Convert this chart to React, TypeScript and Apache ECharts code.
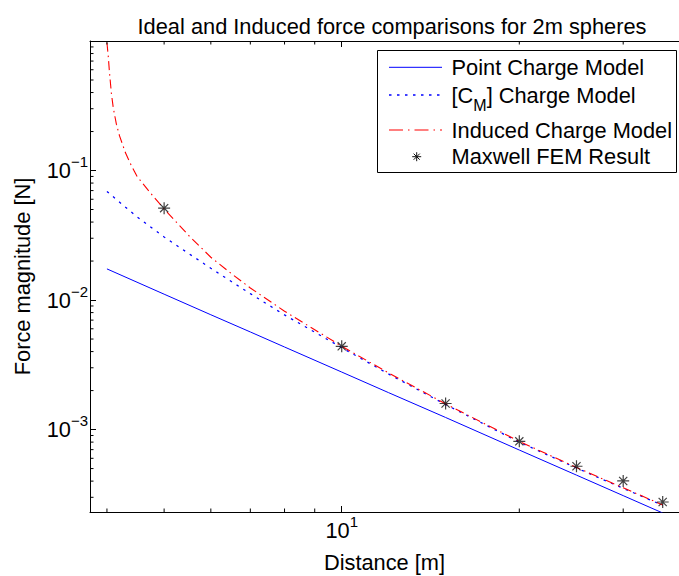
import React, { useEffect, useRef } from "react";
import * as echarts from "echarts";

// Force vs. separation distance for two 2 m spheres
const pointDist = [4, 5, 6, 7, 8, 10, 12, 15, 20, 25, 30, 35];
const pointForce = [0.0174, 0.0111, 0.0077, 0.00567, 0.00434, 0.00278, 0.00193, 0.00124, 0.000695, 0.000445, 0.000309, 0.000227];

const cmDist = [4, 4.25, 4.5, 4.75, 5, 5.5, 6, 6.5, 7, 8, 9, 10, 12, 15, 20, 25, 30, 35];
const cmForce = [0.069, 0.0545, 0.0439, 0.0365, 0.0307, 0.0229, 0.0176, 0.0139, 0.0112, 0.00768, 0.00565, 0.00429, 0.00269, 0.00156, 0.0008, 0.000505, 0.000352, 0.00026];

const inducedDist = [4, 4.02, 4.04, 4.07, 4.1, 4.15, 4.2, 4.3, 4.4, 4.5, 4.75, 5, 5.5, 6, 6.5, 7, 8, 9, 10, 12, 15, 20, 25, 30, 35];
const inducedForce = [0.97, 0.768, 0.57, 0.394, 0.305, 0.228, 0.186, 0.137, 0.109, 0.09, 0.0663, 0.0505, 0.0316, 0.0214, 0.016, 0.0124, 0.0082, 0.0059, 0.0044, 0.00274, 0.00158, 0.00081, 0.00051, 0.000355, 0.000262];

const femDist = [5, 10, 15, 20, 25, 30, 35];
const femForce = [0.0512, 0.00439, 0.00159, 0.000812, 0.000521, 0.000401, 0.000276];

// Axis limits and minor tick positions
const X_MIN = 3.744;
const X_MAX = 37.3;
const Y_MIN = 2.31e-4;
const Y_MAX = 1;
const xMinorTicks = [4, 5, 6, 7, 8, 9, 20, 30];
const yMinorTicks = [
  3e-4, 4e-4, 5e-4, 6e-4, 7e-4, 8e-4, 9e-4,
  2e-3, 3e-3, 4e-3, 5e-3, 6e-3, 7e-3, 8e-3, 9e-3,
  2e-2, 3e-2, 4e-2, 5e-2, 6e-2, 7e-2, 8e-2, 9e-2,
  2e-1, 3e-1, 4e-1, 5e-1, 6e-1, 7e-1, 8e-1, 9e-1,
];

const legendNames = ["Point Charge Model", "[C{sub|M}] Charge Model", "Induced Charge Model", "Maxwell FEM Result"];

const FONT = "'Liberation Sans', Arial, Helvetica, sans-serif";
const FS = 21.8;
const BLUE = "#0000ff";
const RED = "#ff0000";
const STAR = "path://M5 0V10M0 5H10M1.6 1.6L8.4 8.4M1.6 8.4L8.4 1.6";

const pow10Label = (v: number) => {
  const e = Math.round(Math.log10(v));
  return `{b|10}{s|${e < 0 ? "\u2212" : ""}${Math.abs(e)}}`;
};

const tickRich = {
  b: { fontSize: FS, lineHeight: 36, fontFamily: FONT, color: "#000" },
  s: { fontSize: 15, lineHeight: 15, padding: [0, 0, 18, 0], fontFamily: FONT, color: "#000" },
};

const pairs = (xs: number[], ys: number[]) => xs.map((x, i) => [x, ys[i]]);

export default function App() {
  const ref = useRef<HTMLDivElement>(null);

  useEffect(() => {
    if (!ref.current) return;
    const chart = echarts.init(ref.current, null, { renderer: "svg" });

    const baseX = {
      type: "log",
      logBase: 10,
      min: X_MIN,
      max: X_MAX,
      splitLine: { show: false },
      axisLine: { show: true, lineStyle: { color: "#000", width: 1 } },
      axisTick: { show: true, inside: true, length: 6, lineStyle: { color: "#000" } },
    };
    const legendX = 389;
    const legendX2 = 442;
    const rows = [67.3, 95, 130, 156.7];

    const starLines = (cx: number, cy: number, r: number) => {
      const d = r * 0.68;
      return [
        [cx - r, cy, cx + r, cy],
        [cx, cy - r, cx, cy + r],
        [cx - d, cy - d, cx + d, cy + d],
        [cx - d, cy + d, cx + d, cy - d],
      ].map(([x1, y1, x2, y2]) => ({
        type: "line",
        shape: { x1, y1, x2, y2 },
        style: { stroke: "#111", lineWidth: 1 },
      }));
    };

    chart.setOption({
      animation: false,
      backgroundColor: "#fff",
      title: {
        text: "Ideal and Induced force comparisons for 2m spheres",
        left: 387,
        top: 10,
        textAlign: "center",
        textStyle: { fontFamily: FONT, fontSize: FS, fontWeight: "normal", color: "#000" },
      },
      grid: { left: 90, right: 0, top: 41, bottom: 64, containLabel: false, outerBoundsMode: "none" },
      xAxis: [
        {
          ...baseX,
          position: "bottom",
          name: "Distance [m]",
          nameLocation: "middle",
          nameGap: 39,
          nameTextStyle: { fontFamily: FONT, fontSize: FS, color: "#000" },
          axisLabel: {
            show: true,
            showMinLabel: false,
            showMaxLabel: false,
            margin: 0,
            formatter: pow10Label,
            rich: tickRich,
            fontFamily: FONT,
            fontSize: FS,
            color: "#000",
          },
        },
        {
          ...baseX,
          position: "top",
          axisLabel: { show: false },
        },
      ],
      yAxis: [
        {
          type: "log",
          logBase: 10,
          min: Y_MIN,
          max: Y_MAX,
          position: "left",
          splitLine: { show: false },
          axisLine: { show: true, lineStyle: { color: "#000", width: 1 } },
          axisTick: { show: true, inside: true, length: 6, lineStyle: { color: "#000" } },
          name: "Force magnitude [N]",
          nameLocation: "middle",
          nameGap: 57,
          nameTextStyle: { fontFamily: FONT, fontSize: FS, color: "#000" },
          axisLabel: {
            show: true,
            showMinLabel: false,
            showMaxLabel: false,
            margin: 2,
            formatter: pow10Label,
            rich: tickRich,
            fontFamily: FONT,
            fontSize: FS,
            color: "#000",
          },
        },
      ],
      series: [
        {
          name: "Point Charge Model",
          type: "line",
          data: pairs(pointDist, pointForce),
          showSymbol: false,
          symbol: "none",
          lineStyle: { color: BLUE, width: 1 },
          z: 3,
        },
        {
          name: "[CM] Charge Model",
          type: "line",
          data: pairs(cmDist, cmForce),
          showSymbol: false,
          symbol: "none",
          lineStyle: { color: BLUE, width: 1.3, type: [2.5, 5.5] },
          z: 3,
        },
        {
          name: "Induced Charge Model",
          type: "line",
          data: pairs(inducedDist, inducedForce),
          showSymbol: false,
          symbol: "none",
          lineStyle: { color: RED, width: 1.1, type: [9, 4, 1.5, 4] },
          z: 4,
        },
        {
          name: "Maxwell FEM Result",
          type: "scatter",
          data: pairs(femDist, femForce),
          symbol: STAR,
          symbolSize: 12,
          itemStyle: { color: "transparent", borderColor: "#111", borderWidth: 1.2 },
          z: 5,
        },
        {
          // minor ticks on the bottom and top edges
          type: "custom",
          silent: true,
          data: xMinorTicks.map((v) => [v, Y_MIN]),
          renderItem: (_p: any, api: any) => {
            const x = api.value(0);
            const b = api.coord([x, Y_MIN]);
            const t = api.coord([x, Y_MAX]);
            return {
              type: "group",
              children: [
                { type: "line", shape: { x1: b[0], y1: b[1], x2: b[0], y2: b[1] - 3.5 }, style: { stroke: "#000", lineWidth: 1 } },
                { type: "line", shape: { x1: t[0], y1: t[1], x2: t[0], y2: t[1] + 3.5 }, style: { stroke: "#000", lineWidth: 1 } },
              ],
            };
          },
          z: 6,
        },
        {
          // minor ticks on the left edge
          type: "custom",
          silent: true,
          data: yMinorTicks.map((v) => [X_MIN, v]),
          renderItem: (_p: any, api: any) => {
            const p = api.coord([X_MIN, api.value(1)]);
            return {
              type: "line",
              shape: { x1: p[0], y1: p[1], x2: p[0] + 3.5, y2: p[1] },
              style: { stroke: "#000", lineWidth: 1 },
            };
          },
          z: 6,
        },
      ],
      graphic: [
        {
          type: "group",
          z: 100,
          children: [
            {
              type: "rect",
              shape: { x: 377.5, y: 50.5, width: 299, height: 122 },
              style: { fill: "#fff", stroke: "#000", lineWidth: 1 },
            },
            {
              type: "line",
              shape: { x1: legendX, y1: rows[0], x2: legendX2, y2: rows[0] },
              style: { stroke: BLUE, lineWidth: 1 },
            },
            {
              type: "line",
              shape: { x1: legendX, y1: rows[1], x2: legendX2, y2: rows[1] },
              style: { stroke: BLUE, lineWidth: 1.3, lineDash: [2.5, 5.5] },
            },
            {
              type: "line",
              shape: { x1: legendX, y1: rows[2], x2: legendX2, y2: rows[2] },
              style: { stroke: RED, lineWidth: 1.1, lineDash: [14, 5, 1.5, 5] },
            },
            ...starLines(416.7, rows[3], 4.5),
            ...legendNames.map((t, i) => ({
              type: "text",
              x: 451.5,
              y: rows[i],
              style: {
                text: t,
                fill: "#000",
                fontFamily: FONT,
                fontSize: FS,
                lineHeight: 40,
                textAlign: "left",
                textVerticalAlign: "middle",
                rich: {
                  sub: { fontSize: 16, lineHeight: 16, padding: [21, 0, 0, 0], fontFamily: FONT, fill: "#000" },
                },
              },
            })),
          ],
        },
      ],
    });

    return () => chart.dispose();
  }, []);

  return (
    <div
      ref={ref}
      style={{ position: "fixed", left: 0, top: 0, width: 679, height: 576, background: "#fff" }}
    />
  );
}
